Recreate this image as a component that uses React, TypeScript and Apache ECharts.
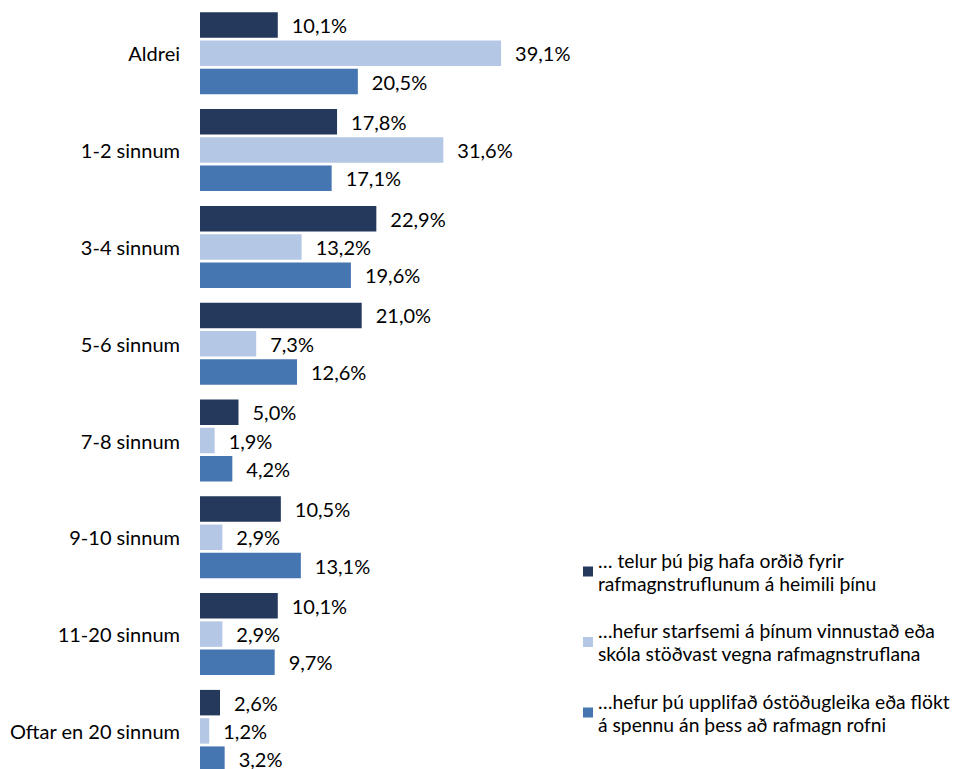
import React, { useEffect, useRef } from "react";
import * as echarts from "echarts";

const categories = [
  "Aldrei",
  "1-2 sinnum",
  "3-4 sinnum",
  "5-6 sinnum",
  "7-8 sinnum",
  "9-10 sinnum",
  "11-20 sinnum",
  "Oftar en 20 sinnum",
];

const seriesNames = [
  "… telur þú þig hafa orðið fyrir\nrafmagnstruflunum á heimili þínu",
  "…hefur starfsemi á þínum vinnustað eða\nskóla stöðvast vegna rafmagnstruflana",
  "…hefur þú upplifað óstöðugleika eða flökt\ná spennu án þess að rafmagn rofni",
];

const heimiliValues = [10.1, 17.8, 22.9, 21.0, 5.0, 10.5, 10.1, 2.6];
const vinnustadurValues = [39.1, 31.6, 13.2, 7.3, 1.9, 2.9, 2.9, 1.2];
const spennaValues = [20.5, 17.1, 19.6, 12.6, 4.2, 13.1, 9.7, 3.2];

const colors = ["#24395C", "#B4C7E4", "#4576B2"];
const FONT = "Lato";

export default function App() {
  const ref = useRef<HTMLDivElement>(null);

  useEffect(() => {
    if (!ref.current) return;
    const chart = echarts.init(ref.current, null, { renderer: "svg" });
    const dataSets = [heimiliValues, vinnustadurValues, spennaValues];
    chart.setOption({
      animation: false,
      backgroundColor: "#ffffff",
      color: colors,
      grid: {
        left: 200,
        top: 4.9,
        width: 385,
        height: 774.4,
        outerBoundsMode: "none",
        containLabel: false,
      },
      xAxis: {
        type: "value",
        min: 0,
        max: 50,
        show: false,
        splitLine: { show: false },
      },
      yAxis: {
        type: "category",
        data: categories,
        inverse: true,
        axisLine: { show: false },
        axisTick: { show: false },
        axisLabel: {
          margin: 20,
          fontSize: 20,
          fontFamily: FONT,
          color: "#000",
        },
      },
      legend: {
        orient: "vertical",
        left: 583,
        top: 537,
        padding: 0,
        itemWidth: 10,
        itemHeight: 10,
        itemGap: 1.5,
        icon: "rect",
        textStyle: {
          fontSize: 19.3,
          fontFamily: FONT,
          color: "#000",
          lineHeight: 23,
          padding: [23, 0, 0, 0],
        },
        data: seriesNames,
      },
      series: dataSets.map((vals, i) => ({
        type: "bar",
        name: seriesNames[i],
        data: vals,
        barWidth: 25.5,
        barGap: "10.8%",
        itemStyle: { color: colors[i] },
        label: {
          show: true,
          position: "right",
          distance: 14,
          fontSize: 20,
          fontFamily: FONT,
          color: "#000",
          formatter: (p: any) => p.value.toFixed(1).replace(".", ",") + "%",
        },
      })),
    });
    return () => chart.dispose();
  }, []);

  return (
    <div
      ref={ref}
      style={{
        position: "absolute",
        left: 0,
        top: 0,
        width: 965,
        height: 769,
        overflow: "hidden",
        background: "#fff",
      }}
    />
  );
}
